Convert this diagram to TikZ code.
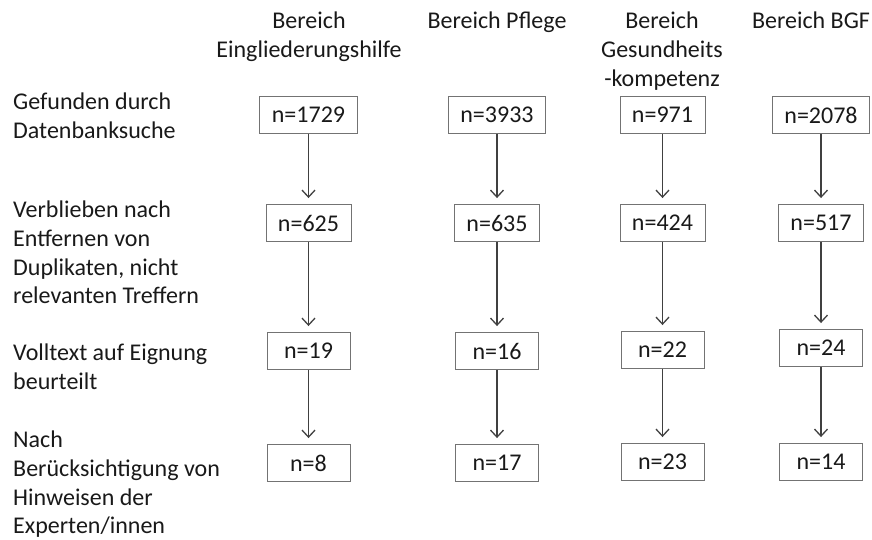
\documentclass[tikz,border=0pt]{standalone}
\usepackage{fontspec}
\setmainfont{Carlito}
\usepackage{tikz}
\usetikzlibrary{arrows.meta,positioning}

\tikzset{
  box/.style={draw=black!55, line width=0.9pt, minimum width=83pt, minimum height=37pt, inner xsep=12pt, inner ysep=0pt},
  lab/.style={anchor=north west, align=left, inner sep=0pt},
  head/.style={anchor=north, align=center, inner sep=0pt},
}

\begin{document}
\begin{tikzpicture}[x=1pt,y=1pt,font=\fontsize{24}{28.6}\selectfont,text=black!90]
            \useasboundingbox (0,0) rectangle (872,-540);
            % headers
            \node[head] (hE) at (309,-12) {Bereich\\Eingliederungshilfe};
            \node[head] (hP) at (497,-12) {Bereich Pflege};
            \node[head] (hG) at (662,-12) {Bereich\\Gesundheits\\-kompetenz};
            \node[head] (hB) at (811,-12) {Bereich BGF};
            % row labels
            \node[lab] (l1) at (13,-93) {Gefunden durch\\Datenbanksuche};
            \node[lab] (l2) at (13,-201) {Verblieben nach\\Entfernen von\\Duplikaten, nicht\\relevanten Treffern};
            \node[lab] (l3) at (13,-344) {Volltext auf Eignung\\beurteilt};
            \node[lab] (l4) at (13,-431) {Nach\\Berücksichtigung von\\Hinweisen der\\Experten/innen};
            % Eingliederungshilfe
            \node[box] (e1) at (308.5,-115) {n=1729};
            \node[box] (e2) at (308.5,-223) {n=625};
            \node[box] (e3) at (308.5,-351) {n=19};
            \node[box] (e4) at (308.5,-463) {n=8};
            % Pflege
            \node[box] (p1) at (497,-115) {n=3933};
            \node[box] (p2) at (497,-223) {n=635};
            \node[box] (p3) at (497,-351) {n=16};
            \node[box] (p4) at (497,-463) {n=17};
            % Gesundheitskompetenz
            \node[box] (g1) at (662.5,-115) {n=971};
            \node[box] (g2) at (662.5,-223) {n=424};
            \node[box] (g3) at (662.5,-350) {n=22};
            \node[box] (g4) at (662.5,-462) {n=23};
            % BGF
            \node[box] (b1) at (821,-115) {n=2078};
            \node[box] (b2) at (821,-223) {n=517};
            \node[box] (b3) at (821,-348) {n=24};
            \node[box] (b4) at (821,-462) {n=14};
            \begin{scope}[draw=black!75,line width=1.3pt,-{Straight Barb[length=7pt,width=13pt]},shorten >=6pt]
                \draw (e1) -- (e2);
                \draw (e2) -- (e3);
                \draw (e3) -- (e4);
                \draw (p1) -- (p2);
                \draw (p2) -- (p3);
                \draw (p3) -- (p4);
                \draw (g1) -- (g2);
                \draw (g2) -- (g3);
                \draw (g3) -- (g4);
                \draw (b1) -- (b2);
                \draw (b2) -- (b3);
                \draw (b3) -- (b4);
            \end{scope}
        \end{tikzpicture}
\end{document}
